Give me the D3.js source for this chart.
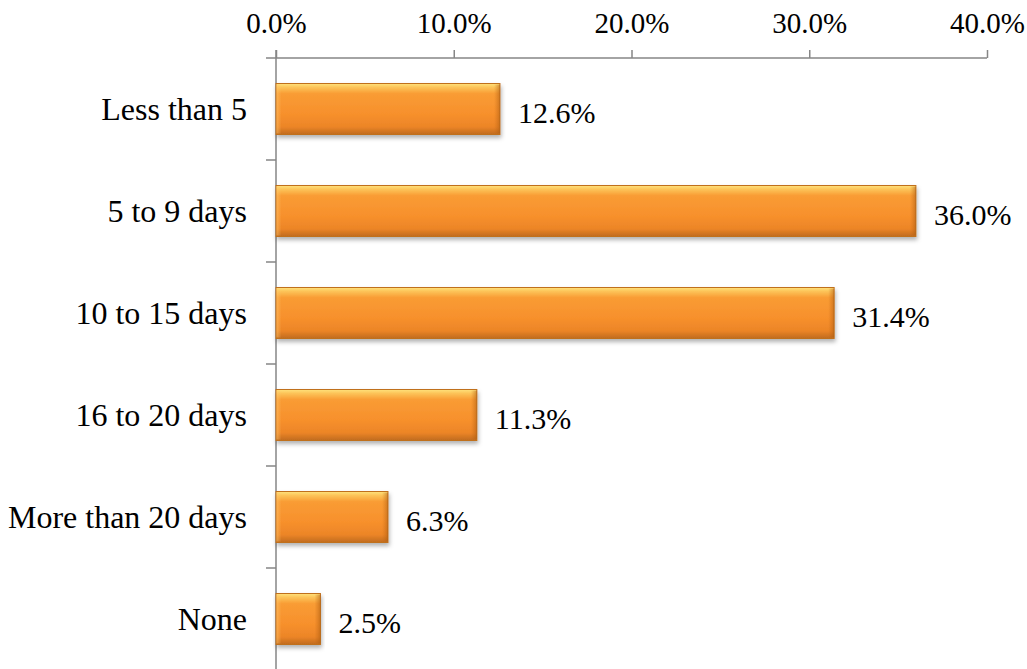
<!DOCTYPE html>
<html><head><meta charset="utf-8">
<script src="https://cdn.jsdelivr.net/npm/d3@7"></script>
<style>
html,body{margin:0;padding:0;background:#fff;}
svg{display:block;}
text{font-family:"Liberation Serif","Times New Roman",serif;fill:#000;}
</style></head>
<body>
<svg id="chart" width="1027" height="669"></svg>
<script>
const categories = ["Less than 5", "5 to 9 days", "10 to 15 days", "16 to 20 days", "More than 20 days", "None"];
const values = [12.6, 36.0, 31.4, 11.3, 6.3, 2.5];
const tickValues = [0, 10, 20, 30, 40];

(function(){
const svg = d3.select("#chart");
const mLeft = 276, mRight = 987, mTop = 58, mBottom = 670;

const x = d3.scaleLinear().domain([0, 40]).range([mLeft, mRight]);
const y = d3.scaleBand().domain(categories).range([mTop, mBottom]).paddingInner(0.5).paddingOuter(0.25);

const defs = svg.append("defs");
const g = defs.append("linearGradient").attr("id","barGrad").attr("x1",0).attr("y1",0).attr("x2",0).attr("y2",1);
[[0,"#FFE27C"],[0.08,"#FCC257"],[0.2,"#F99C34"],[0.6,"#F7902C"],[0.85,"#EC8527"],[1,"#C06B1E"]]
  .forEach(([o,c]) => g.append("stop").attr("offset",o).attr("stop-color",c));
const gr = defs.append("linearGradient").attr("id","rightGrad").attr("x1",0).attr("y1",0).attr("x2",1).attr("y2",0);
[[0,"rgba(190,100,20,0)"],[1,"rgba(170,90,15,0.55)"]]
  .forEach(([o,c]) => gr.append("stop").attr("offset",o).attr("stop-color",c));
const gl = defs.append("linearGradient").attr("id","leftGrad").attr("x1",0).attr("y1",0).attr("x2",1).attr("y2",0);
[[0,"rgba(255,200,110,0.5)"],[1,"rgba(255,200,110,0)"]]
  .forEach(([o,c]) => gl.append("stop").attr("offset",o).attr("stop-color",c));
const f = defs.append("filter").attr("id","shadow").attr("x","-5%").attr("y","-20%").attr("width","115%").attr("height","160%");
f.append("feDropShadow").attr("dx",1).attr("dy",3).attr("stdDeviation",2).attr("flood-color","#000").attr("flood-opacity",0.3);

// top axis
const xAxis = d3.axisTop(x).tickValues(tickValues).tickFormat(d => d.toFixed(1) + "%").tickSize(8).tickPadding(17);
const ax = svg.append("g").attr("transform", `translate(0,${mTop})`).call(xAxis);
ax.select(".domain").attr("stroke","#868686").attr("stroke-width",1.5).attr("d", `M${mLeft},0H${mRight}`);
ax.selectAll(".tick line").attr("stroke","#868686").attr("stroke-width",1.5);
ax.selectAll(".tick text").attr("font-size",29).attr("font-family","Liberation Serif").attr("fill","#000");

// left axis
svg.append("line").attr("x1",mLeft).attr("x2",mLeft).attr("y1",mTop-8).attr("y2",mBottom)
  .attr("stroke","#868686").attr("stroke-width",1.5);
const bounds = d3.range(categories.length + 1).map(i => mTop + i * (mBottom - mTop) / categories.length);
svg.selectAll(".ctick").data(bounds).join("line")
  .attr("x1",mLeft-10).attr("x2",mLeft).attr("y1",d=>d).attr("y2",d=>d)
  .attr("stroke","#868686").attr("stroke-width",1.5);

// bars
const bars = svg.append("g");
categories.forEach((c,i) => {
  const bx = x(0), bw = x(values[i]) - x(0), by = y(c), bh = y.bandwidth();
  bars.append("rect").attr("x",bx).attr("y",by).attr("width",bw).attr("height",bh)
    .attr("fill","url(#barGrad)").attr("stroke","#C0701F").attr("stroke-width",1).attr("filter","url(#shadow)");
  bars.append("rect").attr("x",bx+bw-6).attr("y",by+1).attr("width",6).attr("height",bh-2).attr("fill","url(#rightGrad)");
  bars.append("rect").attr("x",bx+0.5).attr("y",by+1).attr("width",5).attr("height",bh-2).attr("fill","url(#leftGrad)");
});

// category labels
svg.selectAll(".cat").data(categories).join("text")
  .attr("x", mLeft - 29).attr("y", d => y(d) + y.bandwidth()/2).attr("dy","0.35em")
  .attr("text-anchor","end").attr("font-size",32).text(d => d);

// value labels
svg.selectAll(".val").data(categories).join("text")
  .attr("x", (d,i) => x(values[i]) + 18).attr("y", d => y(d) + y.bandwidth()/2 + 3).attr("dy","0.35em")
  .attr("font-size",30).text((d,i) => values[i].toFixed(1) + "%");
})();
</script>
</body></html>
